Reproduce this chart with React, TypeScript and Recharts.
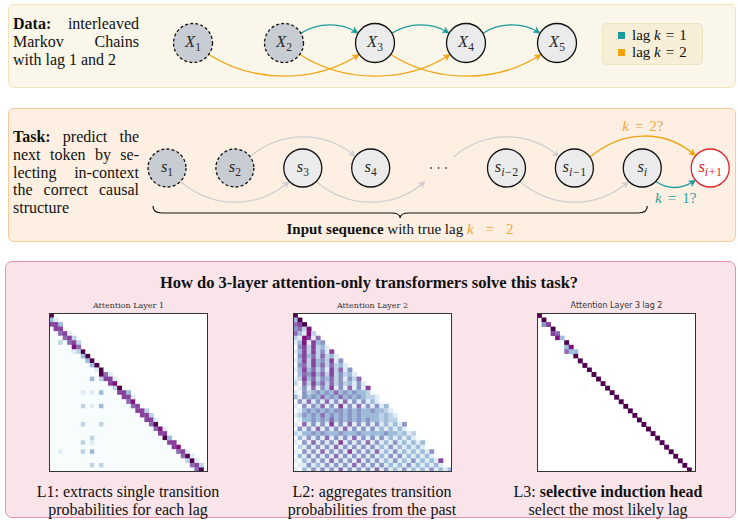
import React from 'react';
import { ScatterChart, Scatter, XAxis, YAxis } from 'recharts';

const SERIF = '"Liberation Serif", "Times New Roman", Times, serif';
const TEAL = '#1b9a9b';
const ORANGE = '#f0a30f';
const ORANGE_TEXT = '#eea53c';
const TEAL_TEXT = '#2a9fa2';
const EDGE_GREY = '#cfcfcf';
const BUPU = ['#f7fcfd', '#e0ecf4', '#bfd3e6', '#9ebcda', '#8c96c6', '#8c6bb1', '#88419d', '#810f7c', '#4d004b'];

// ---------------- data ----------------
const chainSubs = ['1', '2', '3', '4', '5'];
const chainInitial = [true, true, false, false, false];
const lag1Edges = [[2, 3], [3, 4], [4, 5]];
const lag2Edges = [[1, 3], [2, 4], [3, 5]];
const legendLags = ['1', '2'];

const seqSubs = ['1', '2', '3', '4', '', 'i-2', 'i-1', 'i', 'i+1'];
const seqKinds = ['initial', 'initial', 'token', 'token', 'gap', 'token', 'token', 'token', 'target'];
const seqUpperEdges = [[2, 4], [5, 7]];
const seqLowerEdges = [[1, 3], [3, 5], [6, 8]];
const guessLag2 = [[7, 9]];
const guessLag1 = [[8, 9]];
const inputSpan = [1, 8];

const GRID = 35;
const Z10 = '0000000000';
// attention levels 0..8 (BuPu), '.' = empty
const layer1Rows = [
  '8',
  '31',
  '663',
  '066',
  '00561',
  '000562',
  '0020562',
  '0000075',
  '000001280',
  '000000038',
  '00000000380',
  '00000000038',
  Z10 + '180',
  Z10 + '0851',
  '000000000302661',
  Z10 + '000670',
  Z10 + '000028',
  '000000010103000663',
  Z10 + '000000661',
  Z10 + '0000000570',
  '000000020103000000560',
  Z10 + '000000000662',
  Z10 + Z10 + '662',
  Z10 + Z10 + '0661',
  '000000020002' + Z10 + '580',
  Z10 + Z10 + '000571',
  Z10 + Z10 + '0000660',
  '000000000' + '2' + '000000000000000' + '83',
  '0000000201' + Z10 + '000000' + '66',
  Z10 + Z10 + '0000000670',
  '0010000203' + Z10 + '00000000' + '561',
  Z10 + Z10 + '000000000' + '581',
  Z10 + Z10 + Z10 + '281',
  '000000000202' + Z10 + '000000000' + '562',
  Z10 + Z10 + Z10 + '0058',
];
const layer2Rows = [
  '8',
  '38',
  '568',
  '4527',
  '53172',
  '217615',
  '1371634',
  '04626231',
  '136262416',
  '0463525231',
  '13626342614',
  '045263525231',
  '1363524162514',
  '03546352624231',
  '126352435241425',
  '2052635252423141',
  '01415142614151416',
  '104234343534343320',
  '3143435343534343221',
  '04151415141514141310',
  '104142514161415141413',
  '0134343434434343343321',
  '12434353434343433332321',
  '013343435343434343323220',
  '1051414161415141414131314',
  '04141514141514141413131310',
  '213343433343334333334332312',
  '0314141514141514141413131310',
  '10415141416141415141314131313',
  '021414141514141414131413131310',
  '1041415141416141415131413131314',
  '03141414151414141413141413131310',
  '103141415141415141413141314131316',
  '0114131414141514141413131413131310',
  '10314141415141414151413141313141313',
];
// [row, col, level]
const layer3Cells = [
  [0, 0, 8], [1, 1, 8], [2, 1, 4], [2, 2, 6], [3, 3, 8], [4, 3, 6], [4, 4, 5], [5, 4, 7], [5, 5, 3],
  [6, 4, 0], [6, 5, 0], [6, 6, 8], [7, 5, 0], [7, 6, 3], [7, 7, 7], [8, 6, 5], [8, 7, 3], [8, 8, 3],
  [9, 6, 0], [9, 8, 8], [10, 8, 0], [10, 9, 8], [11, 10, 8], [12, 11, 8], [13, 11, 0], [13, 12, 8],
  [14, 13, 8], [15, 14, 8], [16, 10, 0], [16, 12, 0], [16, 15, 8], [17, 16, 8], [18, 17, 8], [19, 18, 8],
  [20, 19, 8], [21, 20, 8], [22, 21, 8], [23, 22, 8], [24, 23, 8], [25, 24, 8], [26, 25, 8], [27, 26, 8],
  [28, 27, 8], [29, 28, 8], [30, 29, 8], [31, 30, 8], [32, 31, 8], [33, 32, 8], [34, 33, 8],
];

// ---------------- helpers ----------------
type Frame = { top: number; height: number; ml: number; mr: number; mb: number; lo: number; hi: number; r: number };
const TOP_FRAME: Frame = { top: 0, height: 90, ml: 147.5, mr: 135.5, mb: 4, lo: 0.5, hi: 5.5, r: 19.5 };
const MID_FRAME: Frame = { top: 100, height: 140, ml: 133.05, mr: 7.45, mb: 4, lo: 0.5, hi: 9.3, r: 19 };
const unitOf = (f: Frame) => (738 - f.ml - f.mr) / (f.hi - f.lo);

type EdgeStyle = {
  color: string; side: number; a: number; b: number; h: number; t: number;
  label?: string; labelColor?: string; labelDy?: number;
};

function makeEdgeShape(frame: Frame, st: EdgeStyle) {
  const unit = unitOf(frame);
  return (props: any) => {
    const { cx, cy, payload } = props;
    if (cx == null || cy == null) return <g />;
    const r = frame.r;
    const bx = cx + (payload.to - payload.i) * unit;
    const s = st.side;
    const ra = (st.a * Math.PI) / 180;
    const rb = (st.b * Math.PI) / 180;
    const x0 = cx + r * Math.cos(ra);
    const y0 = cy + s * r * Math.sin(ra);
    const x3 = bx - r * Math.cos(rb);
    const y3 = cy + s * r * Math.sin(rb);
    const span = x3 - x0;
    const x1 = x0 + st.t * span;
    const y1 = y0 + s * st.h;
    const x2 = x3 - st.t * span;
    const y2 = y3 + s * st.h;
    let dx = x3 - x2;
    let dy = y3 - y2;
    const len = Math.hypot(dx, dy) || 1;
    dx /= len;
    dy /= len;
    const L = 6.5;
    const w = 3;
    const bxp = x3 - dx * L;
    const byp = y3 - dy * L;
    const nx = -dy;
    const ny = dx;
    const head = `M${x3},${y3} L${bxp + nx * w},${byp + ny * w} L${x3 - dx * L * 0.7},${y3 - dy * L * 0.7} L${bxp - nx * w},${byp - ny * w} Z`;
    const midX = 0.125 * x0 + 0.375 * x1 + 0.375 * x2 + 0.125 * x3;
    const midY = 0.125 * y0 + 0.375 * y1 + 0.375 * y2 + 0.125 * y3;
    return (
      <g>
        <path d={`M${x0},${y0} C${x1},${y1} ${x2},${y2} ${x3 - dx * 2},${y3 - dy * 2}`} fill="none" stroke={st.color} strokeWidth={1.3} />
        <path d={head} fill={st.color} stroke={st.color} strokeWidth={0.6} strokeLinejoin="round" />
        {st.label ? (
          <text x={midX} y={midY + (st.labelDy || 0)} textAnchor="middle" dominantBaseline="central" fontFamily={SERIF} fontSize={15} fill={st.labelColor}>
            <tspan fontStyle="italic">k</tspan>
            <tspan dx={6}>=</tspan>
            <tspan dx={6}>{st.label}</tspan>
          </text>
        ) : null}
      </g>
    );
  };
}

function subTspans(sub: string) {
  if (!sub) return null;
  if (sub.startsWith('i')) {
    const rest = sub.slice(1);
    const parts = [<tspan key="i" fontStyle="italic" fontSize={12} dy={4}>i</tspan>];
    if (rest) {
      const op = rest[0] === '-' ? '\u2212' : rest[0];
      parts.push(<tspan key="op" fontSize={12} fontStyle="normal" dx={0.5}>{op}</tspan>);
      parts.push(<tspan key="n" fontSize={12} fontStyle="normal" dx={0.5}>{rest.slice(1)}</tspan>);
    }
    return parts;
  }
  return [<tspan key="n" fontSize={11.5} fontStyle="normal" dy={4}>{sub}</tspan>];
}

function makeNodeShape(frame: Frame) {
  return (props: any) => {
    const { cx, cy, payload } = props;
    if (cx == null || cy == null) return <g />;
    const kind = payload.kind;
    if (kind === 'gap') {
      return (
        <g>
          {[-7.5, 0, 7.5].map((d) => (
            <circle key={d} cx={cx + d} cy={cy} r={0.9} fill="#444" />
          ))}
        </g>
      );
    }
    const fill = kind === 'initial' ? '#c8ccd3' : kind === 'target' ? '#ffffff' : '#ebebeb';
    const stroke = kind === 'target' ? '#e8202a' : '#111';
    const textColor = kind === 'target' ? '#e8202a' : '#2b2b2b';
    return (
      <g>
        <circle cx={cx} cy={cy} r={frame.r} fill={fill} stroke={stroke} strokeWidth={1.3}
          strokeDasharray={kind === 'initial' ? '3 2.2' : undefined} />
        <text x={cx} y={cy + 4} textAnchor="middle" fontFamily={SERIF} fill={textColor}>
          <tspan fontStyle="italic" fontSize={16.5}>{payload.sym}</tspan>
          {subTspans(payload.sub)}
        </text>
      </g>
    );
  };
}

function makeBraceShape(frame: Frame) {
  const unit = unitOf(frame);
  return (props: any) => {
    const { cx, cy, payload } = props;
    if (cx == null || cy == null) return <g />;
    const x1 = cx - 14;
    const x2 = cx + (payload.to - payload.i) * unit + 5;
    const yTop = cy + 38;
    const yLine = cy + 45;
    const yTip = cy + 50;
    const mid = (x1 + x2) / 2;
    const d = `M${x1},${yTop} Q${x1},${yLine} ${x1 + 9},${yLine} L${mid - 9},${yLine} Q${mid},${yLine} ${mid},${yTip} Q${mid},${yLine} ${mid + 9},${yLine} L${x2 - 9},${yLine} Q${x2},${yLine} ${x2},${yTop}`;
    return <path d={d} fill="none" stroke="#111" strokeWidth={1.2} />;
  };
}

const toEdgeData = (edges: number[][]) => edges.map(([a, b]) => ({ i: a, row: 0, to: b }));

function DiagramChart({ frame, children }: { frame: Frame; children: React.ReactNode }) {
  return (
    <div style={{ position: 'absolute', left: 0, top: frame.top, width: 738, height: frame.height }}>
      <ScatterChart width={738} height={frame.height} margin={{ top: 0, right: frame.mr, bottom: frame.mb, left: frame.ml }}>
        <XAxis type="number" dataKey="i" domain={[frame.lo, frame.hi]} hide />
        <YAxis type="number" dataKey="row" domain={[-1, 1]} hide />
        {children}
      </ScatterChart>
    </div>
  );
}

const CS = 159 / GRID;
const cellShape = (p: any) => {
  if (p.cx == null || p.cy == null) return <g />;
  return <rect x={p.cx - CS / 2} y={p.cy - CS / 2} width={CS + 0.35} height={CS + 0.35} fill={BUPU[p.payload.v]} />;
};

const rowsToCells = (rows: string[]) => {
  const out: { r: number; c: number; v: number }[] = [];
  rows.forEach((row, r) => {
    row.split('').forEach((ch, c) => {
      if (ch !== '.') out.push({ r, c, v: Number(ch) });
    });
  });
  return out;
};

const layer1Data = rowsToCells(layer1Rows);
const layer2Data = rowsToCells(layer2Rows);
const layer3Data = layer3Cells.map(([r, c, v]) => ({ r, c, v }));

function Heatmap({ data, left, title, titleFont }: { data: any[]; left: number; title: string; titleFont: string }) {
  return (
    <>
      <div style={{ position: 'absolute', left: left - 40, width: 239, top: 301, textAlign: 'center', fontFamily: titleFont, fontSize: 8, lineHeight: '10px', color: '#333' }}>{title}</div>
      <div style={{ position: 'absolute', left, top: 313, width: 159, height: 159, background: '#fff' }}>
        <ScatterChart width={159} height={159} margin={{ top: 0, right: 0, bottom: 0, left: 0 }}>
          <XAxis type="number" dataKey="c" domain={[-0.5, GRID - 0.5]} hide />
          <YAxis type="number" dataKey="r" domain={[-0.5, GRID - 0.5]} reversed hide />
          <Scatter data={data} shape={cellShape} isAnimationActive={false} />
        </ScatterChart>
        <div style={{ position: 'absolute', left: 0, top: 0, width: 159, height: 159, border: '1px solid #333', boxSizing: 'border-box' }} />
      </div>
    </>
  );
}

const J: React.CSSProperties = { textAlign: 'justify', textAlignLast: 'justify' };

export default function App() {
  const topNodes = chainSubs.map((sub, k) => ({ i: k + 1, row: 0, sym: 'X', sub, kind: chainInitial[k] ? 'initial' : 'token' }));
  const seqNodes = seqSubs.map((sub, k) => ({ i: k + 1, row: 0, sym: seqKinds[k] === 'gap' ? '' : 's', sub, kind: seqKinds[k] }));
  const legendColors = [TEAL, ORANGE];

  return (
    <div style={{ position: 'absolute', left: 0, top: 0, width: 738, height: 520, overflow: 'hidden', background: '#fff', fontFamily: SERIF, color: '#111' }}>
      {/* panels */}
      <div style={{ position: 'absolute', left: 8, top: 4, width: 728, height: 84, boxSizing: 'border-box', background: '#faf7ea', border: '1.3px solid #efe3b8', borderRadius: 6 }} />
      <div style={{ position: 'absolute', left: 8, top: 108, width: 728, height: 134, boxSizing: 'border-box', background: '#fdf0e3', border: '1.3px solid #f8c999', borderRadius: 6 }} />
      <div style={{ position: 'absolute', left: 5, top: 261, width: 731, height: 257, boxSizing: 'border-box', background: '#f9e4ea', border: '1.3px solid #eb8fab', borderRadius: 7 }} />

      {/* top text */}
      <div style={{ position: 'absolute', left: 13, top: 15, width: 126, fontSize: 16, lineHeight: '18px' }}>
        <div style={J}><b>Data:</b> interleaved</div>
        <div style={J}>Markov Chains</div>
        <div>with lag 1 and 2</div>
      </div>

      {/* legend */}
      <div style={{ position: 'absolute', left: 602, top: 23, width: 101, height: 42, boxSizing: 'border-box', background: '#f6eed6', border: '1px solid #f0e4c0', borderRadius: 5 }} />
      {legendLags.map((lag, k) => (
        <React.Fragment key={lag}>
          <div style={{ position: 'absolute', left: 618, top: 31.5 + k * 17, width: 7, height: 7, background: legendColors[k] }} />
          <div style={{ position: 'absolute', left: 632, top: 26 + k * 17, fontSize: 15, lineHeight: '18px', whiteSpace: 'nowrap' }}>
            lag <i>k</i><span style={{ margin: '0 5px' }}>=</span>{lag}
          </div>
        </React.Fragment>
      ))}

      {/* middle text */}
      <div style={{ position: 'absolute', left: 13, top: 128, width: 126, fontSize: 16, lineHeight: '17.75px' }}>
        <div style={J}><b>Task:</b> predict the</div>
        <div style={J}>next token by se-</div>
        <div style={J}>lecting in-context</div>
        <div style={J}>the correct causal</div>
        <div>structure</div>
      </div>
      <div style={{ position: 'absolute', left: 200, top: 220, width: 400, textAlign: 'center', fontSize: 15, lineHeight: '18px', whiteSpace: 'nowrap' }}>
        <b>Input sequence</b> with true lag{' '}
        <span style={{ color: ORANGE_TEXT }}><i>k</i><span style={{ margin: '0 12px' }}>=</span>2</span>
      </div>

      {/* top diagram */}
      <DiagramChart frame={TOP_FRAME}>
        <Scatter data={toEdgeData(lag1Edges)} shape={makeEdgeShape(TOP_FRAME, { color: TEAL, side: -1, a: 30, b: 30, h: 11, t: 0.3 })} isAnimationActive={false} />
        <Scatter data={toEdgeData(lag2Edges)} shape={makeEdgeShape(TOP_FRAME, { color: ORANGE, side: 1, a: 36, b: 36, h: 28.7, t: 0.3 })} isAnimationActive={false} />
        <Scatter data={topNodes} shape={makeNodeShape(TOP_FRAME)} isAnimationActive={false} />
      </DiagramChart>

      {/* middle diagram */}
      <DiagramChart frame={MID_FRAME}>
        <Scatter data={toEdgeData(seqUpperEdges)} shape={makeEdgeShape(MID_FRAME, { color: EDGE_GREY, side: -1, a: 37, b: 37, h: 26, t: 0.3 })} isAnimationActive={false} />
        <Scatter data={toEdgeData(seqLowerEdges)} shape={makeEdgeShape(MID_FRAME, { color: EDGE_GREY, side: 1, a: 45, b: 45, h: 27.5, t: 0.3 })} isAnimationActive={false} />
        <Scatter data={toEdgeData(guessLag2)} shape={makeEdgeShape(MID_FRAME, { color: ORANGE, side: -1, a: 35, b: 40, h: 27, t: 0.3, label: '2?', labelColor: ORANGE_TEXT, labelDy: -10 })} isAnimationActive={false} />
        <Scatter data={toEdgeData(guessLag1)} shape={makeEdgeShape(MID_FRAME, { color: TEAL, side: 1, a: 45, b: 40, h: 9, t: 0.35, label: '1?', labelColor: TEAL_TEXT, labelDy: 10 })} isAnimationActive={false} />
        <Scatter data={[{ i: inputSpan[0], row: 0, to: inputSpan[1] }]} shape={makeBraceShape(MID_FRAME)} isAnimationActive={false} />
        <Scatter data={seqNodes} shape={makeNodeShape(MID_FRAME)} isAnimationActive={false} />
      </DiagramChart>

      {/* bottom panel */}
      <div style={{ position: 'absolute', left: 0, top: 273, width: 738, textAlign: 'center', fontSize: 16.5, lineHeight: '20px', fontWeight: 'bold' }}>
        How do 3-layer attention-only transformers solve this task?
      </div>

      <Heatmap data={layer1Data} left={49} title="Attention Layer 1" titleFont='"DejaVu Serif", serif' />
      <Heatmap data={layer2Data} left={293} title="Attention Layer 2" titleFont='"DejaVu Serif", serif' />
      <Heatmap data={layer3Data} left={537} title="Attention Layer 3 lag 2" titleFont='"DejaVu Sans", sans-serif' />

      <div style={{ position: 'absolute', left: 8, top: 483, width: 240, textAlign: 'center', fontSize: 16, lineHeight: '18px' }}>
        <div>L1: extracts single transition</div>
        <div>probabilities for each lag</div>
      </div>
      <div style={{ position: 'absolute', left: 252, top: 483, width: 240, textAlign: 'center', fontSize: 16, lineHeight: '18px' }}>
        <div>L2: aggregates transition</div>
        <div>probabilities from the past</div>
      </div>
      <div style={{ position: 'absolute', left: 488, top: 483, width: 240, textAlign: 'center', fontSize: 16, lineHeight: '18px' }}>
        <div>L3: <b>selective induction head</b></div>
        <div>select the most likely lag</div>
      </div>
    </div>
  );
}
